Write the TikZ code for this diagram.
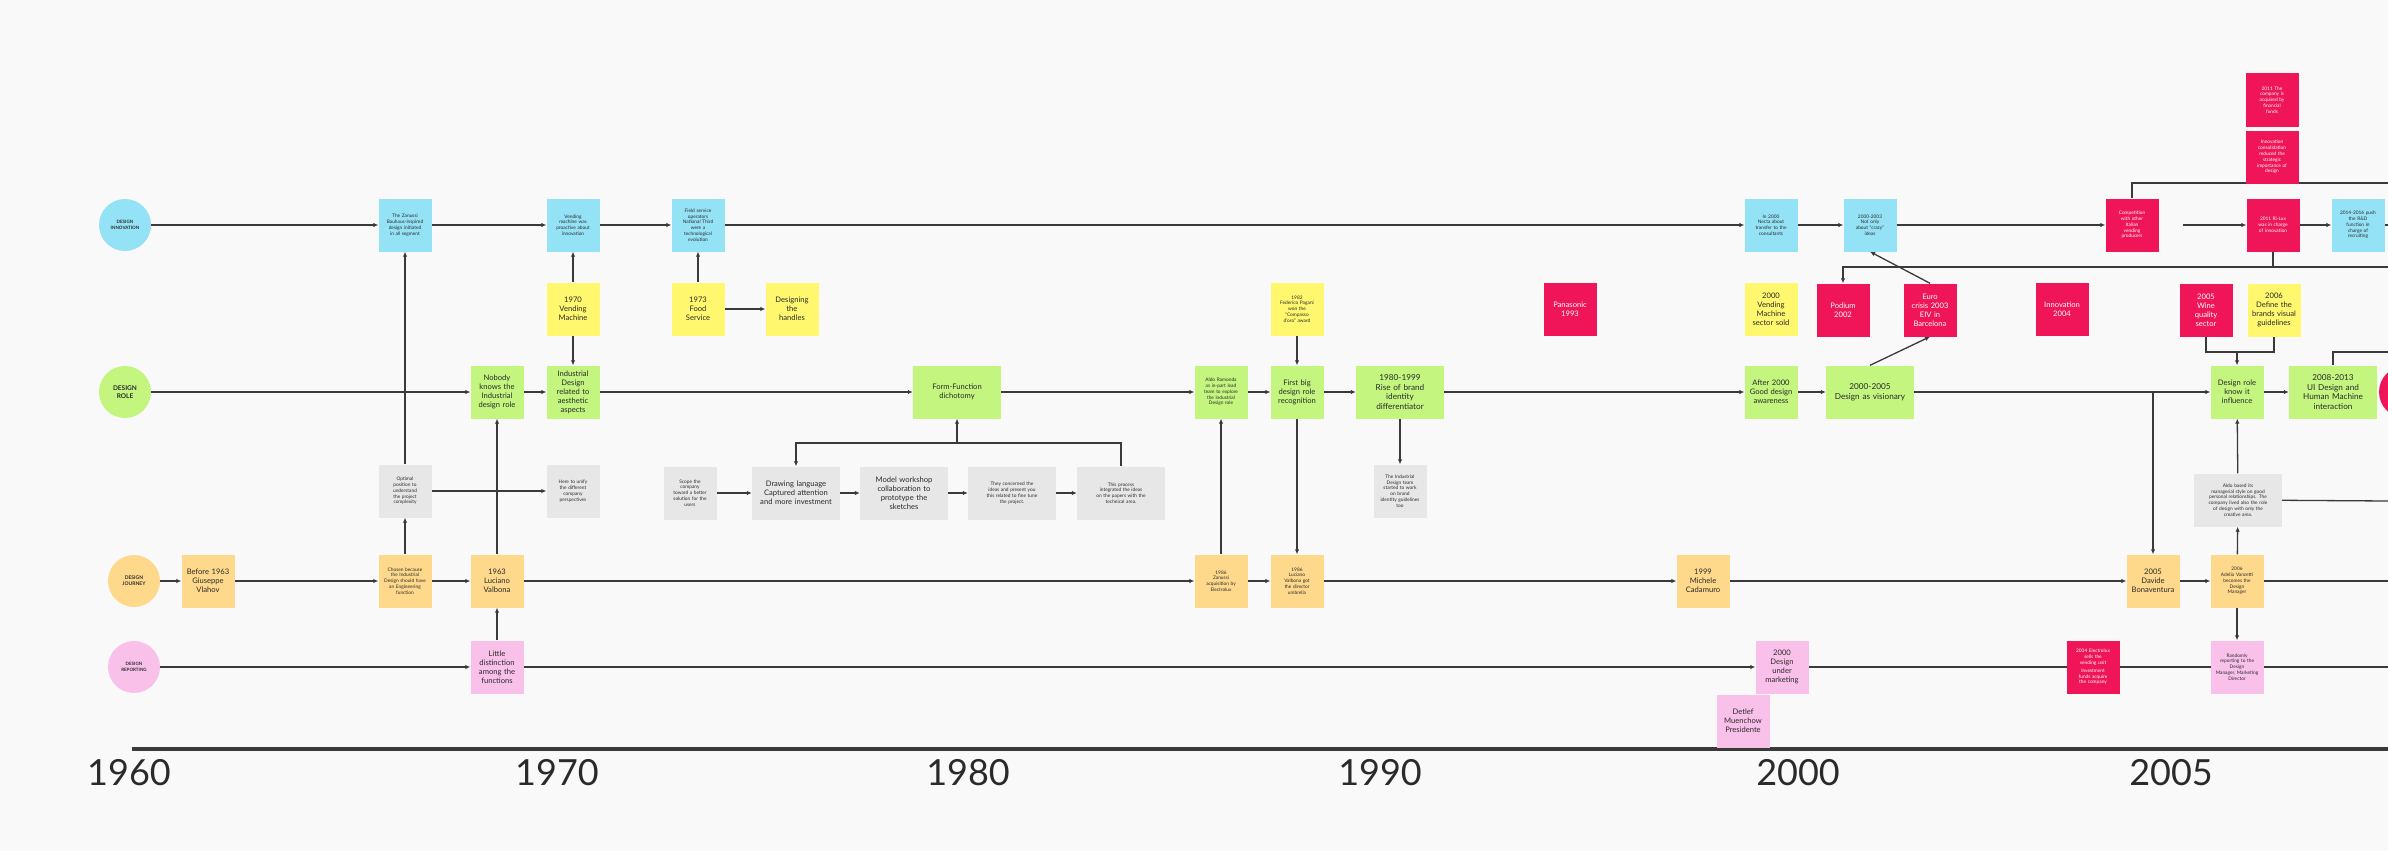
\documentclass[tikz,border=0pt]{standalone}
\usepackage{fontspec}
\setmainfont{Lato}
\usetikzlibrary{arrows.meta,shapes.geometric}
\definecolor{bgc}{HTML}{F9F9F9}
\definecolor{cblue}{HTML}{94E2F6}
\definecolor{cgreen}{HTML}{C3F57F}
\definecolor{corange}{HTML}{FFD98B}
\definecolor{cpink}{HTML}{F9C1EA}
\definecolor{cyellow}{HTML}{FFF86E}
\definecolor{cred}{HTML}{EF1558}
\definecolor{cgray}{HTML}{E7E7E7}
\definecolor{ink}{HTML}{2A2A2A}
\definecolor{linec}{HTML}{3A3A3A}
\pgfdeclarelayer{bg}
\pgfsetlayers{bg,main}
\begin{document}
\begin{tikzpicture}[x=1pt,y=-1pt,
  note/.style={rectangle, minimum width=53pt, minimum height=53pt, inner sep=1pt,
    text width=50pt, align=center, font=\fontsize{7.6}{9}\selectfont, text=ink},
  widenote/.style={minimum width=88pt, text width=84pt},
  smalltxt/.style={font=\fontsize{4.8}{5.8}\selectfont},
  bnote/.style={note, fill=cblue},
  gnote/.style={note, fill=cgreen},
  onote/.style={note, fill=corange},
  pnote/.style={note, fill=cpink},
  ynote/.style={note, fill=cyellow},
  knote/.style={note, fill=cgray},
  rnote/.style={note, fill=cred, text=white},
  lane/.style={circle, minimum size=52pt, inner sep=0pt, align=center,
    font=\bfseries\fontsize{4.5}{5.5}\selectfont, text=ink},
  year/.style={font=\fontsize{36}{40}\selectfont, text=ink, inner sep=0pt},
  arr/.style={draw=linec, line width=1.3pt, -{Latex[length=5pt,width=4.5pt]}},
  ln/.style={draw=linec, line width=1.3pt}
]
\useasboundingbox (0,0) rectangle (2388,851);
\clip (0,0) rectangle (2388,851);

% ---------- lane circles ----------
\node[lane, fill=cblue] (cInn) at (125,225) {DESIGN\\INNOVATION};
\node[lane, fill=cgreen, font=\bfseries\fontsize{6.5}{7.5}\selectfont] (cRole) at (125,392) {DESIGN\\ROLE};
\node[lane, fill=corange, font=\bfseries\fontsize{5}{6}\selectfont] (cJour) at (134,581) {DESIGN\\JOURNEY};
\node[lane, fill=cpink] (cRep) at (134,667) {DESIGN\\REPORTING};
\node[lane, fill=cred] (cEnd) at (2405,392) {};

% ---------- row 1: innovation ----------
\node[bnote, smalltxt] (b1) at (405,225) {The Zanussi\\Bauhaus-inspired\\design initiated\\in all segment};
\node[bnote, smalltxt] (b2) at (573,225) {Vending\\machine was\\proactive about\\innovation};
\node[bnote, smalltxt] (b3) at (698,225) {Field service\\operators\\National Third\\were a\\technological\\evolution};
\node[bnote, smalltxt] (b4) at (1771,225) {In 2000\\Necta about\\transfer to the\\consultants};
\node[bnote, smalltxt] (b5) at (1870,225) {2000-2003\\Not only\\about ``crazy''\\ideas};
\node[rnote, smalltxt] (r1) at (2132,225) {Competition\\with other\\Italian\\vending\\producers};
\node[rnote, smalltxt] (r2) at (2273,225) {2011 Ri-Lux\\was in charge\\of innovation};
\node[bnote, smalltxt] (b6) at (2358,225) {2014-2016 push\\the R\&D\\function in\\charge of\\recruiting};
\node[rnote, smalltxt] (r3) at (2272,100) {2011 The\\company is\\acquired by\\financial\\funds};
\node[rnote, smalltxt] (r4) at (2272,157) {Innovation\\consolidation\\reduced the\\strategic\\importance of\\design};

% ---------- row 2: events ----------
\node[ynote] (y1) at (573,309) {1970\\Vending\\Machine};
\node[ynote] (y2) at (698,309) {1973\\Food\\Service};
\node[ynote] (y3) at (792,309) {Designing\\the\\handles};
\node[ynote, smalltxt] (y4) at (1297,309) {1982\\Federico Pagani\\won the\\``Compasso\\d'oro'' award};
\node[rnote] (r0) at (1570,309) {Panasonic\\1993};
\node[ynote] (y5) at (1771,309) {2000\\Vending\\Machine\\sector sold};
\node[rnote] (r5) at (1843,310) {Podium\\2002};
\node[rnote] (r6) at (1930,310) {Euro\\crisis 2003\\EIV in\\Barcelona};
\node[rnote] (r7) at (2062,309) {Innovation\\2004};
\node[rnote] (r8) at (2206,310) {2005\\Wine\\quality\\sector};
\node[ynote] (y6) at (2274,310) {2006\\Define the\\brands visual\\guidelines};

% ---------- row 3: design role ----------
\node[gnote] (g1) at (497,392) {Nobody\\knows the\\Industrial\\design role};
\node[gnote] (g2) at (573,392) {Industrial\\Design\\related to\\aesthetic\\aspects};
\node[gnote, widenote] (g3) at (957,392) {Form-Function\\dichotomy};
\node[gnote, smalltxt] (g4) at (1221,392) {Aldo Ramonda\\as in-part lead\\team to explore\\the industrial\\Design role};
\node[gnote] (g5) at (1297,392) {First big\\design role\\recognition};
\node[gnote, widenote, font=\fontsize{8.2}{9.8}\selectfont] (g6) at (1400,392) {1980-1999\\Rise of brand\\identity\\differentiator};
\node[gnote] (g7) at (1771,392) {After 2000\\Good design\\awareness};
\node[gnote, widenote, font=\fontsize{8.2}{9.8}\selectfont] (g8) at (1870,392) {2000-2005\\Design as visionary};
\node[gnote] (g9) at (2237,392) {Design role\\know it\\influence};
\node[gnote, widenote, font=\fontsize{8.2}{9.8}\selectfont] (g10) at (2333,392) {2008-2013\\UI Design and\\Human Machine\\interaction};

% ---------- gray notes ----------
\node[knote, smalltxt] (k1) at (405,491) {Optimal\\position to\\understand\\the project\\complexity};
\node[knote, smalltxt] (k2) at (573,491) {Here to unify\\the different\\company\\perspectives};
\node[knote, smalltxt] (k3) at (690,493) {Scope the\\company\\toward a better\\solution for the\\users};
\node[knote, widenote] (k4) at (796,493) {Drawing language\\Captured attention\\and more investment};
\node[knote, widenote] (k5) at (904,493) {Model workshop\\collaboration to\\prototype the\\sketches};
\node[knote, widenote, smalltxt] (k6) at (1012,493) {They concerned the\\ideas and present you\\this related to fine tune\\the project.};
\node[knote, widenote, smalltxt] (k7) at (1121,493) {This process\\integrated the ideas\\on the papers with the\\technical area.};
\node[knote, smalltxt] (k8) at (1400,491) {The Industrial\\Design team\\started to work\\on brand\\identity guidelines\\too};
\node[knote, widenote, smalltxt] (k9) at (2238,500) {Aldo based its\\managerial style on good\\personal relationships. The\\company lived also the role\\of design with only the\\creative area.};

% ---------- row 4: design journey ----------
\node[onote] (o1) at (208,581) {Before 1963\\Giuseppe\\Vlahov};
\node[onote, smalltxt] (o2) at (405,581) {Chosen because\\the Industrial\\Design should have\\an Engineering\\function};
\node[onote] (o3) at (497,581) {1963\\Luciano\\Valbona};
\node[onote, smalltxt] (o4) at (1221,581) {1986\\Zanussi\\acquisition by\\Electrolux};
\node[onote, smalltxt] (o5) at (1297,581) {1986\\Luciano\\Valbona got\\the director\\umbrella};
\node[onote] (o6) at (1703,581) {1999\\Michele\\Cadamuro};
\node[onote] (o7) at (2153,581) {2005\\Davide\\Bonaventura};
\node[onote, smalltxt] (o8) at (2237,581) {2006\\Adelio Vanzetti\\becomes the\\Design\\Manager};

% ---------- row 5: design reporting ----------
\node[pnote] (p1) at (497,667) {Little\\distinction\\among the\\functions};
\node[pnote] (p2) at (1782,667) {2000\\Design\\under\\marketing};
\node[pnote] (p3) at (1743,721) {Detlef\\Muenchow\\Presidente};
\node[rnote, smalltxt] (r9) at (2093,667) {2004 Electrolux\\sells the\\vending unit\\[2pt] Investment\\funds acquire\\the company};
\node[pnote, smalltxt] (p4) at (2237,667) {Randomly\\reporting to the\\Design\\Manager, Marketing\\Director};

% ---------- axis and years ----------
\coordinate (axL) at (132,749);
\coordinate (axR) at (2388,749);
\node[year] (y1960) at (129,773) {1960};
\node[year] (y1970) at (557,773) {1970};
\node[year] (y1980) at (968,773) {1980};
\node[year] (y1990) at (1380,773) {1990};
\node[year] (y2000) at (1798,773) {2000};
\node[year] (y2005) at (2171,773) {2005};

% ---------- helper coordinates ----------
\coordinate (jn) at (957,443);
\coordinate (gapR) at (2183,225);
\coordinate (jr) at (2273,267);
\coordinate (eB) at (2388,267);
\coordinate (eT) at (2388,183);
\coordinate (jg) at (2237,352);
\coordinate (eG) at (2388,352);
\coordinate (eK) at (2388,501);
\coordinate (eO) at (2388,581);
\coordinate (eP) at (2388,667);
\coordinate (eI) at (2388,225);

\begin{pgfonlayer}{bg}
\fill[bgc] (0,0) rectangle (2388,851);
\draw[line width=4pt, draw=linec] (axL) -- (axR);

% row 1
\draw[arr] (cInn) -- (b1);
\draw[arr] (b1) -- (b2);
\draw[arr] (b2) -- (b3);
\draw[arr] (b3) -- (b4);
\draw[arr] (b4) -- (b5);
\draw[arr] (b5) -- (r1);
\draw[arr] (gapR) -- (r2);
\draw[arr] (r2) -- (b6);
\draw[ln] (b6) -- (eI);
\draw[ln] (r1.north) |- (eT);
\draw[ln] (r2.south) -- (jr);
\draw[arr] (jr) -| (r5.north);
\draw[ln] (jr) -- (eB);

% row 2 links
\draw[arr] (y1) -- (b2);
\draw[arr] (y1) -- (g2);
\draw[arr] (y2) -- (b3);
\draw[arr] (y2) -- (y3);
\draw[arr] (y4) -- (g5);
\draw[arr] (g8.north) -- (r6.south);
\draw[arr] (r6.north) -- (b5.south);
\draw[ln] (r8.south) |- (jg);
\draw[ln] (y6.south) |- (jg);
\draw[arr] (jg) -- (g9.north);

% row 3
\draw[arr] (cRole) -- (g1);
\draw[arr] (g1) -- (g2);
\draw[arr] (g2) -- (g3);
\draw[arr] (g3) -- (g4);
\draw[arr] (g4) -- (g5);
\draw[arr] (g5) -- (g6);
\draw[arr] (g6) -- (g7);
\draw[arr] (g7) -- (g8);
\draw[arr] (g8) -- (g9);
\draw[arr] (g9) -- (g10);
\draw[ln] (g10.north) |- (eG);
\draw[arr] (o7.north |- g8.east) -- (o7.north);

% gray notes
\draw[arr] (k1) -- (b1);
\draw[arr] (o2) -- (k1);
\draw[arr] (k1) -- (k2);
\draw[arr] (k3) -- (k4);
\draw[arr] (k4) -- (k5);
\draw[arr] (k5) -- (k6);
\draw[arr] (k6) -- (k7);
\draw[arr] (k7.north) |- (jn) -- (g3.south);
\draw[arr] (jn) -| (k4.north);
\draw[arr] (g6) -- (k8);
\draw[arr] (o8) -- (k9);
\draw[arr] (k9) -- (g9);
\draw[ln] (k9) -- (eK);

% row 4
\draw[arr] (cJour) -- (o1);
\draw[arr] (o1) -- (o2);
\draw[arr] (o2) -- (o3);
\draw[arr] (o3) -- (g1);
\draw[arr] (o3) -- (o4);
\draw[arr] (o4) -- (g4);
\draw[arr] (g5) -- (o5);
\draw[arr] (o4) -- (o5);
\draw[arr] (o5) -- (o6);
\draw[arr] (o6) -- (o7);
\draw[arr] (o7) -- (o8);
\draw[ln] (o8) -- (eO);
\draw[arr] (o8) -- (p4);

% row 5
\draw[arr] (cRep) -- (p1);
\draw[arr] (p1) -- (o3);
\draw[arr] (p1) -- (p2);
\draw[ln] (p2) -- (eP);
\end{pgfonlayer}
\end{tikzpicture}
\end{document}
